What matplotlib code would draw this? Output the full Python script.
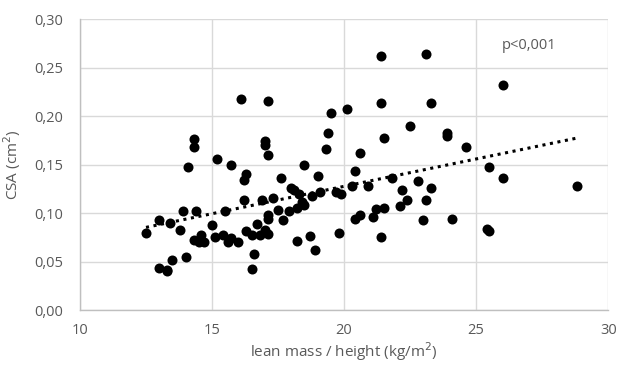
import matplotlib
matplotlib.use("Agg")
import matplotlib.pyplot as plt
import numpy as np

lean_mass_height = [
    12.5, 13.0, 13.0, 13.3, 13.3, 13.4, 13.5, 13.8, 13.9, 14.0,
    14.1, 14.3, 14.3, 14.3, 14.4, 14.5, 14.6, 14.7, 15.0, 15.1,
    15.2, 15.4, 15.5, 15.6, 15.7, 15.7, 16.0, 16.1, 16.2, 16.2,
    16.3, 16.3, 16.5, 16.5, 16.6, 16.7, 16.8, 16.9, 17.0, 17.0,
    17.0, 17.1, 17.1, 17.1, 17.1, 17.1, 17.3, 17.5, 17.6, 17.7,
    17.9, 18.0, 18.1, 18.2, 18.2, 18.3, 18.4, 18.5, 18.5, 18.7,
    18.8, 18.9, 19.0, 19.1, 19.3, 19.4, 19.5, 19.7, 19.8, 19.9,
    20.1, 20.3, 20.4, 20.4, 20.6, 20.6, 20.9, 21.1, 21.2, 21.4,
    21.4, 21.4, 21.5, 21.5, 21.8, 22.1, 22.2, 22.4, 22.5, 22.8,
    23.0, 23.1, 23.1, 23.3, 23.3, 23.9, 23.9, 24.1, 24.6, 25.4,
    25.5, 25.5, 26.0, 26.0, 28.8,
]
csa = [
    0.080, 0.044, 0.093, 0.040, 0.042, 0.090, 0.052, 0.083, 0.102, 0.055,
    0.148, 0.168, 0.176, 0.072, 0.102, 0.070, 0.078, 0.070, 0.088, 0.076,
    0.156, 0.078, 0.102, 0.070, 0.150, 0.074, 0.070, 0.218, 0.114, 0.134,
    0.140, 0.082, 0.043, 0.078, 0.058, 0.089, 0.078, 0.114, 0.170, 0.174,
    0.083, 0.216, 0.160, 0.094, 0.098, 0.079, 0.116, 0.103, 0.136, 0.093,
    0.102, 0.126, 0.124, 0.105, 0.071, 0.120, 0.112, 0.108, 0.150, 0.077,
    0.118, 0.062, 0.138, 0.122, 0.166, 0.183, 0.203, 0.122, 0.080, 0.120,
    0.207, 0.128, 0.094, 0.143, 0.162, 0.098, 0.128, 0.096, 0.104, 0.262,
    0.214, 0.076, 0.105, 0.178, 0.136, 0.107, 0.124, 0.114, 0.190, 0.133,
    0.093, 0.264, 0.114, 0.214, 0.126, 0.183, 0.180, 0.094, 0.168, 0.084,
    0.082, 0.148, 0.232, 0.136, 0.128,
]
x_ticks = [10, 15, 20, 25, 30]
y_ticks = [0.00, 0.05, 0.10, 0.15, 0.20, 0.25, 0.30]
annotation = "p<0,001"

plt.rcParams['font.family'] = ['Open Sans', 'DejaVu Sans']
text_color = '#595959'

fig = plt.figure(figsize=(6.2, 3.67), dpi=100)
ax = fig.add_axes([0.129, 0.1545, 0.852, 0.7935])

x = np.array(lean_mass_height)
y = np.array(csa)
ax.scatter(x, y, s=52, color='black', zorder=3, linewidths=0)

coef = np.polyfit(x, y, 1)
xl = np.array([x.min(), x.max()])
ax.plot(xl, np.polyval(coef, xl), linestyle=(0, (1, 1.5)), color='black',
        linewidth=2.2, zorder=2)

ax.set_xlim(10, 30)
ax.set_ylim(0, 0.30)
ax.set_xticks(x_ticks)
ax.set_yticks(y_ticks)
ax.set_yticklabels([f"{v:.2f}".replace('.', ',') for v in y_ticks])
ax.set_xticklabels([str(v) for v in x_ticks])
ax.grid(True, color='#d9d9d9', linewidth=1.0, zorder=0)
ax.set_axisbelow(True)
for s in ['top', 'right']:
    ax.spines[s].set_visible(False)
for s in ['left', 'bottom']:
    ax.spines[s].set_color('#bfbfbf')
    ax.spines[s].set_linewidth(1.0)
ax.tick_params(axis='both', length=0, labelsize=10.5, colors=text_color)
ax.tick_params(axis='x', pad=9)
ax.tick_params(axis='y', pad=12)

ax.set_xlabel('lean mass / height (kg/m$^2$)', fontsize=11, color=text_color, labelpad=2)
ax.set_ylabel('CSA (cm$^2$)', fontsize=11, color=text_color, labelpad=8)
ax.text(27.0, 0.273, annotation, fontsize=10.5, color=text_color, ha='center', va='center')

fig.savefig('out.png', dpi=100)
